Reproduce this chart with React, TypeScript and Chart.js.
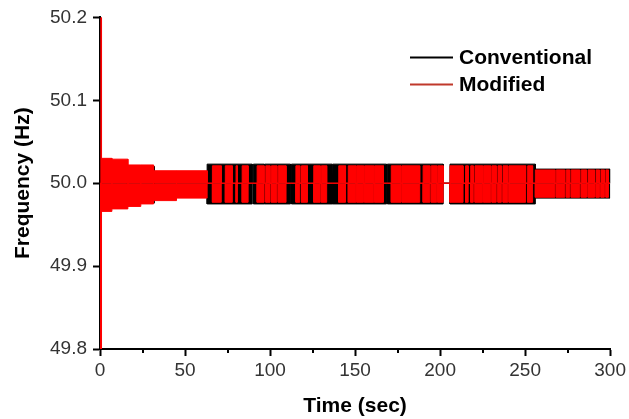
import React, { useEffect, useRef } from 'react';
import { Chart, registerables } from 'chart.js';

Chart.register(...registerables);

// ---- data ----
const NOMINAL_HZ = 50.0;
const X_MIN = 0;
const X_MAX = 300;
const X_STEP = 50;
const X_MINOR_TICKS = [25, 75, 125, 175, 225, 275];
const Y_MIN = 49.8;
const Y_MAX = 50.2;
const Y_STEP = 0.1;

const SERIES_LABELS = ['Conventional', 'Modified'];

// Conventional: oscillation bursts (start s, end s, upper Hz, lower Hz)
const convStart = [0.1, 0.9, 16, 32, 63, 90.2, 96.9, 112.6, 137, 169, 205.8, 256];
const convEnd = [0.5, 16, 32, 63, 89.5, 96.5, 112, 136.5, 168.5, 201.8, 256, 300];
const convHigh = [50.2, 50.027, 50.02, 50.013, 50.023, 50.023, 50.023, 50.023, 50.023, 50.023, 50.023, 50.017];
const convLow = [49.8, 49.971, 49.976, 49.983, 49.975, 49.975, 49.975, 49.975, 49.975, 49.975, 49.975, 49.982];

// Modified: oscillation bursts (start s, end s, upper Hz, lower Hz)
const modStart = [
  0.5, 0.9, 7, 16.4, 24, 31.5, 45, 66.1, 73.7, 80.0, 83.6, 92.4, 97.5, 100.8, 104.8, 115.2,
  118.5, 125.7, 130.2, 140.4, 146, 151, 155.6, 161.5, 171.3, 177.6, 190, 194.8, 198.6, 205.8,
  215, 218, 220.5, 225.6, 230.5, 234, 237, 240.5, 251.5, 256, 268.3, 274.2, 277.1, 283, 287,
  291.7, 294.6, 297.5,
];
const modEnd = [
  0.9, 7, 16.4, 24, 31.5, 45, 63, 71.3, 77.8, 80.8, 87.1, 96.5, 100, 104, 109.4, 117.5,
  122, 129.5, 133.3, 144.4, 150.5, 155, 161, 166.7, 177, 188, 194, 198, 201.8, 213.5,
  216.5, 219.5, 225, 229.8, 233, 236, 239.8, 250.3, 254.4, 267.5, 273.3, 276.2, 282.1, 286.1, 290.8,
  293.7, 296.6, 299,
];
const modHigh = [
  50.2, 50.03, 50.029, 50.022, 50.022, 50.015, 50.015, 50.021, 50.021, 50.021, 50.021, 50.021, 50.021, 50.021, 50.021, 50.021,
  50.021, 50.021, 50.021, 50.021, 50.021, 50.021, 50.021, 50.021, 50.021, 50.021, 50.021, 50.021, 50.021, 50.021,
  50.021, 50.021, 50.021, 50.021, 50.021, 50.021, 50.021, 50.021, 50.021, 50.016, 50.016, 50.016, 50.016, 50.016, 50.016,
  50.016, 50.016, 50.016,
];
const modLow = [
  49.8, 49.966, 49.969, 49.972, 49.975, 49.979, 49.982, 49.977, 49.977, 49.977, 49.977, 49.977, 49.977, 49.977, 49.977, 49.977,
  49.977, 49.977, 49.977, 49.977, 49.977, 49.977, 49.977, 49.977, 49.977, 49.977, 49.977, 49.977, 49.977, 49.977,
  49.977, 49.977, 49.977, 49.977, 49.977, 49.977, 49.977, 49.977, 49.977, 49.983, 49.983, 49.983, 49.983, 49.983, 49.983,
  49.983, 49.983, 49.983,
];

// ---- styles ----
const CONV_COLOR = '#000000';
const MOD_COLOR = '#ff0000';
const LEGEND_COLORS = ['#000000', '#c0392b'];
const FONT = '"Liberation Sans", Arial, Helvetica, sans-serif';

type Pt = { x: number; y: number };

function envelope(starts: number[], ends: number[], vals: number[]): Pt[] {
  const pts: Pt[] = [{ x: X_MIN, y: NOMINAL_HZ }];
  for (let i = 0; i < starts.length; i++) {
    pts.push({ x: starts[i], y: NOMINAL_HZ });
    pts.push({ x: starts[i], y: vals[i] });
    pts.push({ x: ends[i], y: vals[i] });
    pts.push({ x: ends[i], y: NOMINAL_HZ });
  }
  pts.push({ x: X_MAX, y: NOMINAL_HZ });
  return pts;
}

function band(label: string, data: Pt[], color: string) {
  return {
    label,
    data,
    borderColor: color,
    backgroundColor: color,
    borderWidth: 1,
    pointRadius: 0,
    tension: 0,
    fill: { value: NOMINAL_HZ },
  };
}

const extrasPlugin = {
  id: 'extras',
  afterDraw(chart: any) {
    const ctx = chart.ctx;
    const xs = chart.scales.x;
    const area = chart.chartArea;
    // minor ticks on x axis
    ctx.save();
    ctx.strokeStyle = '#000';
    ctx.lineWidth = 2;
    X_MINOR_TICKS.forEach((v) => {
      const px = Math.round(xs.getPixelForValue(v));
      ctx.beginPath();
      ctx.moveTo(px, area.bottom);
      ctx.lineTo(px, area.bottom + 4);
      ctx.stroke();
    });
    // legend
    const lx0 = area.left + 310;
    const lx1 = area.left + 353;
    const rows = [area.top + 40, area.top + 67];
    ctx.font = `bold 21px ${FONT}`;
    ctx.textBaseline = 'middle';
    ctx.textAlign = 'left';
    SERIES_LABELS.forEach((lab, i) => {
      ctx.strokeStyle = LEGEND_COLORS[i];
      ctx.lineWidth = 2;
      ctx.beginPath();
      ctx.moveTo(lx0, rows[i]);
      ctx.lineTo(lx1, rows[i]);
      ctx.stroke();
      ctx.fillStyle = '#000';
      ctx.fillText(lab, lx1 + 6, rows[i] + 1);
    });
    ctx.restore();
  },
};

export default function App() {
  const ref = useRef<HTMLCanvasElement | null>(null);
  useEffect(() => {
    document.body.style.margin = '0';
    if (!ref.current) return;
    const chart = new Chart(ref.current, {
      type: 'line',
      data: {
        datasets: [
          band(SERIES_LABELS[1], envelope(modStart, modEnd, modHigh), MOD_COLOR),
          band(SERIES_LABELS[1], envelope(modStart, modEnd, modLow), MOD_COLOR),
          band(SERIES_LABELS[0], envelope(convStart, convEnd, convHigh), CONV_COLOR),
          band(SERIES_LABELS[0], envelope(convStart, convEnd, convLow), CONV_COLOR),
        ] as any,
      },
      options: {
        animation: false,
        responsive: false,
        devicePixelRatio: 1,
        parsing: false as any,
        normalized: true,
        layout: { padding: { top: 15, right: 16, left: 0, bottom: 0 } },
        plugins: { legend: { display: false }, tooltip: { enabled: false } },
        scales: {
          x: {
            type: 'linear',
            min: X_MIN,
            max: X_MAX,
            afterFit: (s: any) => {
              s.height = 70;
            },
            ticks: {
              stepSize: X_STEP,
              padding: 3,
              color: '#333',
              font: { family: FONT, size: 19 },
              maxRotation: 0,
            },
            grid: { drawOnChartArea: false, drawTicks: true, tickLength: 7, tickColor: '#000', tickWidth: 2 },
            border: { display: true, color: '#000', width: 2 },
            title: {
              display: true,
              text: 'Time (sec)',
              color: '#000',
              font: { family: FONT, size: 21, weight: 'bold' },
              padding: { top: 0, bottom: 0 },
            },
          },
          y: {
            type: 'linear',
            min: Y_MIN,
            max: Y_MAX,
            afterFit: (s: any) => {
              s.width = 100;
            },
            ticks: {
              stepSize: Y_STEP,
              padding: 6,
              color: '#333',
              font: { family: FONT, size: 19 },
              callback: (v: any) => Number(v).toFixed(1),
            },
            grid: { drawOnChartArea: false, drawTicks: true, tickLength: 7, tickColor: '#000', tickWidth: 2 },
            border: { display: true, color: '#000', width: 2 },
            title: {
              display: true,
              text: 'Frequency (Hz)',
              color: '#000',
              font: { family: FONT, size: 21, weight: 'bold' },
              padding: { top: 11, bottom: 0 },
            },
          },
        },
      } as any,
      plugins: [extrasPlugin],
    });
    return () => chart.destroy();
  }, []);
  return (
    <div style={{ position: 'absolute', left: 0, top: 0, width: 629, height: 419, background: '#fff' }}>
      <canvas ref={ref} width={629} height={419} style={{ display: 'block' }} />
    </div>
  );
}
